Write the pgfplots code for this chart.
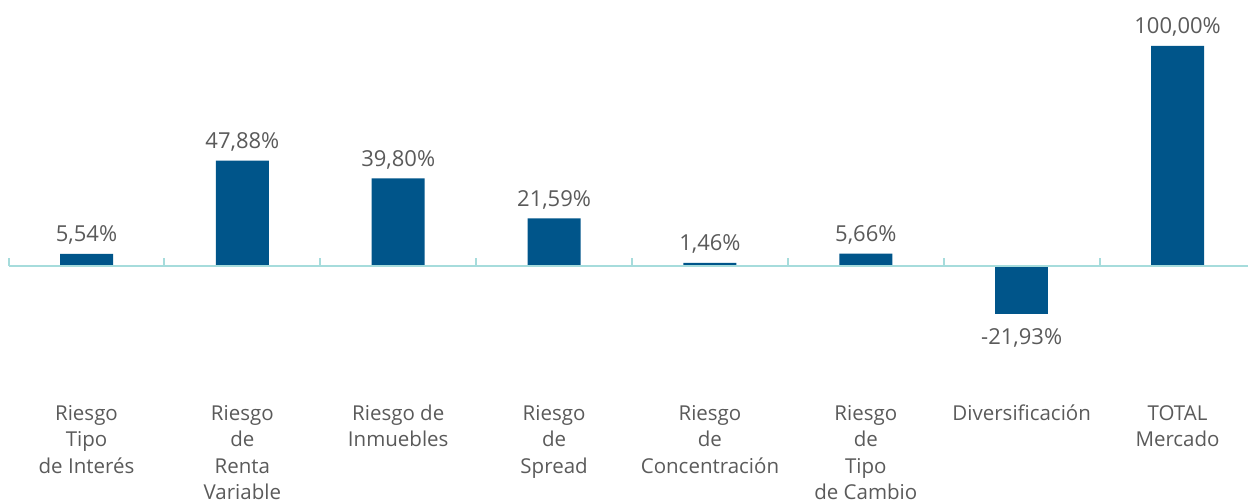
\documentclass[border=0pt]{standalone}
\usepackage{pgfplots}
\pgfplotsset{compat=1.18}
\usepackage{fontspec}
\setmainfont{Open Sans}
\definecolor{barblue}{HTML}{00558A}
\definecolor{axteal}{HTML}{A6DCDC}
\definecolor{txtgray}{HTML}{5A5A5A}
\newcommand\fl{\rule{0pt}{16pt}}
\begin{document}
\begin{tikzpicture}
\begin{axis}[
 scale only axis, width=1248pt, height=398pt,
 xmin=-0.555, xmax=7.452, ymin=-60, ymax=120.9,
 axis line style={draw=none},
 ytick=\empty,
 xtick={0,...,7},
 major tick length=0pt,
 xticklabels={{\fl Riesgo\\Tipo\\de Interés},{\fl Riesgo\\de\\Renta\\Variable},{\fl Riesgo de\\Inmuebles},{\fl Riesgo\\de\\Spread},{\fl Riesgo\\de\\Concentración},{\fl Riesgo\\de\\Tipo\\de Cambio},{\fl Diversificación},{\fl TOTAL\\Mercado}},
 xticklabel style={align=center, anchor=north, font=\fontsize{20.5}{26.5}\selectfont, text=txtgray, inner sep=0pt, yshift=-6pt},
 ybar, bar width=53pt, bar shift=0pt,
 nodes near coords, point meta=explicit symbolic,
 every node near coord/.append style={font=\fontsize{22}{24}\selectfont, text=txtgray, inner sep=0pt, text height=16pt, text depth=0pt},
 clip=false,
]
\addplot[fill=barblue, draw=none,
  every node near coord/.append style={anchor=south, yshift=12pt}] table[x=x,y=y,meta=lab] {
x y lab
0 5.54 {5,54\%}
1 47.88 {47,88\%}
2 39.80 {39,80\%}
3 21.59 {21,59\%}
4 1.46 {1,46\%}
5 5.66 {5,66\%}
7 100 {100,00\%}
};
\addplot[fill=barblue, draw=none,
  every node near coord/.append style={anchor=north, yshift=-14pt}] table[x=x,y=y,meta=lab] {
x y lab
6 -21.93 {-21,93\%}
};
\draw[axteal, line width=2.2pt] (axis cs:-0.5,0) -- (axis cs:7.452,0);
\draw[axteal, line width=2pt] (axis cs:-0.5,0) -- ([yshift=8pt]axis cs:-0.5,0);
\draw[axteal, line width=2pt] (axis cs:0.5,0) -- ([yshift=8pt]axis cs:0.5,0);
\draw[axteal, line width=2pt] (axis cs:1.5,0) -- ([yshift=8pt]axis cs:1.5,0);
\draw[axteal, line width=2pt] (axis cs:2.5,0) -- ([yshift=8pt]axis cs:2.5,0);
\draw[axteal, line width=2pt] (axis cs:3.5,0) -- ([yshift=8pt]axis cs:3.5,0);
\draw[axteal, line width=2pt] (axis cs:4.5,0) -- ([yshift=8pt]axis cs:4.5,0);
\draw[axteal, line width=2pt] (axis cs:5.5,0) -- ([yshift=8pt]axis cs:5.5,0);
\draw[axteal, line width=2pt] (axis cs:6.5,0) -- ([yshift=8pt]axis cs:6.5,0);
\end{axis}
\pgfresetboundingbox
\path (current axis.north west) rectangle ([yshift=-103pt]current axis.south east);
\end{tikzpicture}
\end{document}
